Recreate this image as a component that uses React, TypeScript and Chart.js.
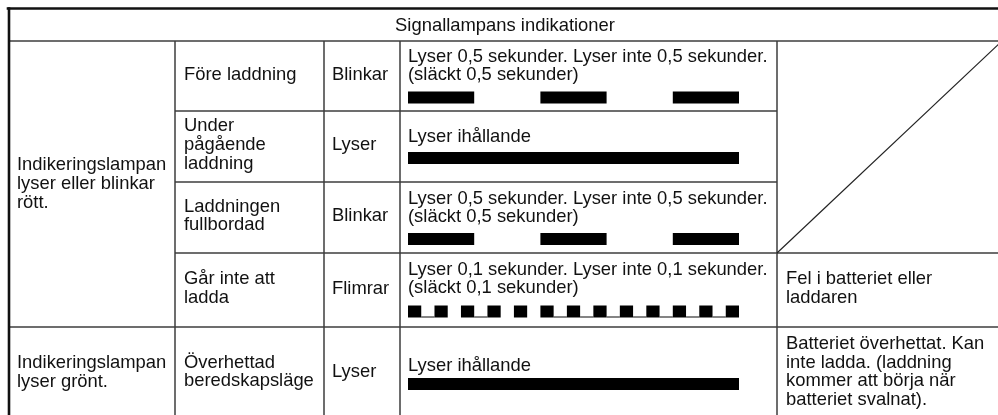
import React, { useEffect, useRef } from "react";
import { Chart, registerables } from "chart.js";

Chart.register(...registerables);

// ---------------- data ----------------
const HEADER = "Signallampans indikationer";
const GROUPS = [
  "Indikeringslampan\nlyser eller blinkar\nrött.",
  "Indikeringslampan\nlyser grönt.",
];
const STATES = [
  "Före laddning",
  "Under\npågående\nladdning",
  "Laddningen\nfullbordad",
  "Går inte att\nladda",
  "Överhettad\nberedskapsläge",
];
const MODES = ["Blinkar", "Lyser", "Blinkar", "Flimrar", "Lyser"];
const DESCRIPTIONS = [
  "Lyser 0,5 sekunder. Lyser inte 0,5 sekunder.\n(släckt 0,5 sekunder)",
  "Lyser ihållande",
  "Lyser 0,5 sekunder. Lyser inte 0,5 sekunder.\n(släckt 0,5 sekunder)",
  "Lyser 0,1 sekunder. Lyser inte 0,1 sekunder.\n(släckt 0,1 sekunder)",
  "Lyser ihållande",
];
const NOTES = [
  "",
  "",
  "",
  "Fel i batteriet eller\nladdaren",
  "Batteriet överhettat. Kan\ninte ladda. (laddning\nkommer att börja när\nbatteriet svalnat).",
];
// lamp "on" intervals in seconds
const BLINK_ON: [number, number][] = [
  [0, 0.5],
  [1.0, 1.5],
  [2.0, 2.5],
];
const STEADY_ON: [number, number][] = [[0, 2.5]];
const FLICKER_ON: [number, number][] = [
  [0, 0.1], [0.2, 0.3], [0.4, 0.5], [0.6, 0.7], [0.8, 0.9], [1.0, 1.1], [1.2, 1.3],
  [1.4, 1.5], [1.6, 1.7], [1.8, 1.9], [2.0, 2.1], [2.2, 2.3], [2.4, 2.5],
];
// thin "off" trace segments visible under the flicker pattern
const FLICKER_TRACE: [number, number][] = [
  [0.1, 0.2], [0.5, 0.6], [1.1, 1.2], [1.3, 1.4], [1.5, 1.6], [1.7, 1.8],
  [1.9, 2.0], [2.1, 2.2], [2.3, 2.4],
];
const PATTERNS = [BLINK_ON, STEADY_ON, BLINK_ON, FLICKER_ON, STEADY_ON];
const TIME_MIN = 0;
const TIME_MAX = 2.5;

// ---------------- layout ----------------
const W = 998;
const H = 415;
const COL_X = [8, 175, 324, 400, 777, 1002];
const ROW_Y = [41, 111, 182, 253, 327, 420];
const TOP_Y = 8.5;
const BAR_Y = [97.5, 158, 239, 311.5, 384];
const DESC_Y = [57, 137, 199, 270, 366];
const TIMELINE_LEFT = 408;
const TIMELINE_RIGHT = 739;
const FONT = '18.4px "Liberation Sans", Arial, sans-serif';
const LH = 18.7;
const DESC_LH = 17.5;
const TEXT_PAD = [9, 9, 8, 8, 9];

function drawLines(ctx: CanvasRenderingContext2D, text: string, x: number, yMid: number, lh: number, align: CanvasTextAlign = "left") {
  const lines = text.split("\n");
  const y0 = yMid - ((lines.length - 1) * lh) / 2;
  ctx.textAlign = align;
  lines.forEach((l, i) => ctx.fillText(l, x, y0 + i * lh));
}

const tablePlugin = {
  id: "tablePlugin",
  beforeDatasetsDraw(chart: any) {
    const ctx: CanvasRenderingContext2D = chart.ctx;
    ctx.save();
    ctx.strokeStyle = "#3c3c3c";
    ctx.lineWidth = 1.5;
    const seg = (x1: number, y1: number, x2: number, y2: number) => {
      ctx.beginPath();
      ctx.moveTo(x1, y1);
      ctx.lineTo(x2, y2);
      ctx.stroke();
    };
    seg(COL_X[0], ROW_Y[0], COL_X[5], ROW_Y[0]);
    seg(COL_X[1], ROW_Y[1], COL_X[4], ROW_Y[1]);
    seg(COL_X[1], ROW_Y[2], COL_X[4], ROW_Y[2]);
    seg(COL_X[1], ROW_Y[3], COL_X[5], ROW_Y[3]);
    seg(COL_X[0], ROW_Y[4], COL_X[5], ROW_Y[4]);
    for (let c = 1; c <= 4; c++) seg(COL_X[c], ROW_Y[0], COL_X[c], H + 5);
    ctx.lineWidth = 1.2;
    ctx.strokeStyle = "#222";
    seg(COL_X[4], ROW_Y[3], COL_X[5], ROW_Y[0]);
    ctx.strokeStyle = "#111";
    ctx.lineWidth = 2.6;
    seg(COL_X[0] - 1.3, TOP_Y, W + 5, TOP_Y);
    seg(COL_X[0] + 1, TOP_Y - 1.3, COL_X[0] + 1, H + 5);

    ctx.fillStyle = "#111";
    ctx.font = FONT;
    ctx.textBaseline = "middle";
    drawLines(ctx, HEADER, (COL_X[0] + COL_X[5]) / 2, 25.5, LH, "center");
    drawLines(ctx, GROUPS[0], COL_X[0] + TEXT_PAD[0], (ROW_Y[0] + ROW_Y[4]) / 2, LH);
    drawLines(ctx, GROUPS[1], COL_X[0] + TEXT_PAD[0], (ROW_Y[4] + ROW_Y[5]) / 2 - 1, LH);
    for (let r = 0; r < 5; r++) {
      const mid = (ROW_Y[r] + ROW_Y[r + 1]) / 2 - 1.5;
      drawLines(ctx, STATES[r], COL_X[1] + TEXT_PAD[1], mid, LH);
      drawLines(ctx, MODES[r], COL_X[2] + TEXT_PAD[2], mid, LH);
      const dl = DESCRIPTIONS[r].split("\n");
      ctx.textAlign = "left";
      dl.forEach((l, i) => ctx.fillText(l, TIMELINE_LEFT, DESC_Y[r] + i * DESC_LH));
      if (NOTES[r]) drawLines(ctx, NOTES[r], COL_X[4] + TEXT_PAD[4], mid, LH);
    }
    ctx.restore();
  },
};

export default function App() {
  const ref = useRef<HTMLCanvasElement>(null);
  useEffect(() => {
    if (!ref.current) return;
    const datasets: any[] = PATTERNS.map((p, i) => ({
      label: STATES[i].replace(/\n/g, " "),
      data: p.map(([s, e]) => ({ x: [s, e], y: BAR_Y[i] })),
      backgroundColor: "#000",
      borderWidth: 0,
      barThickness: 12,
      grouped: false,
      inflateAmount: 0,
    }));
    datasets.push({
      label: "trace",
      data: FLICKER_TRACE.map(([s, e]) => ({ x: [s, e], y: BAR_Y[3] + 5.5 })),
      backgroundColor: "#333",
      borderWidth: 0,
      barThickness: 1.2,
      grouped: false,
      inflateAmount: 0,
    });
    const chart = new Chart(ref.current, {
      type: "bar",
      data: { datasets },
      options: {
        indexAxis: "y",
        responsive: false,
        animation: false,
        devicePixelRatio: 1,
        layout: { padding: { left: TIMELINE_LEFT, right: W - TIMELINE_RIGHT, top: 0, bottom: 0 } },
        scales: {
          x: { type: "linear", min: TIME_MIN, max: TIME_MAX, display: false },
          y: { type: "linear", min: 0, max: H, reverse: true, display: false, offset: false },
        },
        plugins: { legend: { display: false }, tooltip: { enabled: false } },
      },
      plugins: [tablePlugin],
    } as any);
    return () => chart.destroy();
  }, []);
  return (
    <div style={{ position: "fixed", left: 0, top: 0, width: W, height: H, background: "#fff", overflow: "hidden" }}>
      <canvas ref={ref} width={W} height={H} style={{ display: "block", width: W, height: H }} />
    </div>
  );
}
